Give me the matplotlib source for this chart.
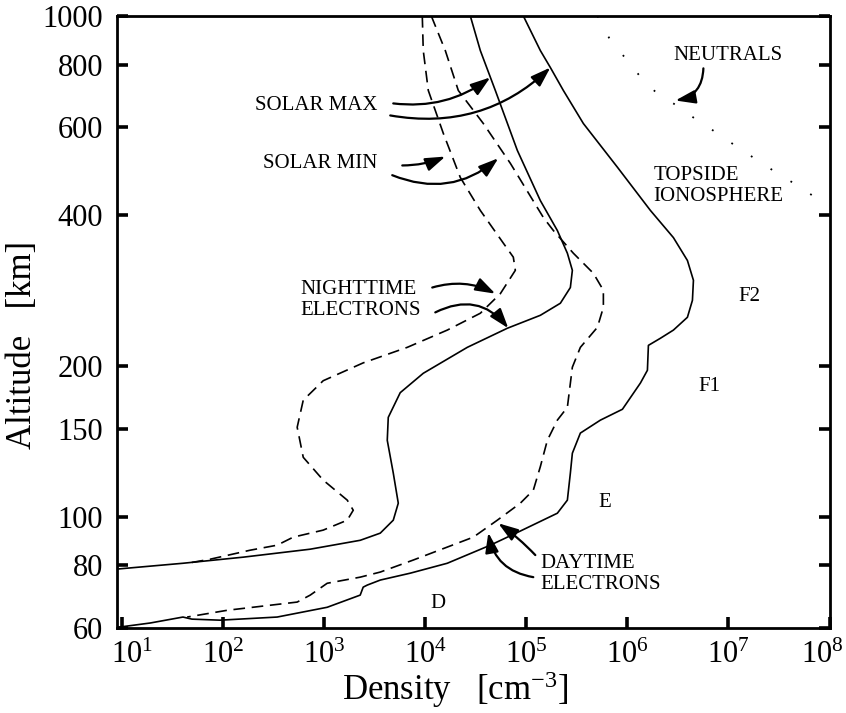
import matplotlib
matplotlib.use("Agg")
import matplotlib.pyplot as plt
from matplotlib.transforms import ScaledTranslation

# Electron density profiles (density in cm^-3, altitude in km)
day_max_n = [93400, 137600, 172900, 232500, 366700, 796200, 1.69e6, 2.854e6, 3.926e6, 4.503e6,
             4.401e6, 3.926e6, 2.854e6, 2.122e6, 1.614e6, 1.578e6, 1.345e6, 8.93e5, 5.403e5, 3.425e5,
             2.854e5, 2.727e5, 2.547e5, 2.027e5, 87220, 44000, 16500, 7100, 3590, 2670,
             2430, 2270, 1070, 342, 93, 49, 40, 19, 9.1]
day_max_h = [1000, 853, 789, 710, 610, 499, 409, 361, 325, 296.7,
             270.6, 250.3, 236, 227.3, 220, 196.2, 185, 164, 156, 147,
             134, 122.3, 108, 101.7, 93.7, 87.8, 80.8, 77.2, 74.8, 73.1,
             72.4, 69.8, 66.0, 63.1, 62.2, 62.5, 63.1, 61.4, 60.2]

day_min_n = [11470, 15780, 21220, 37530, 69440, 147400, 185100, 292000, 460700, 578500,
             578500, 504700, 342500, 285400, 254700, 202700, 161400, 137600, 117300, 87220,
             51650, 29880, 7600, 3590, 2270, 1070, 727, 540, 110, 44]
day_min_h = [1000, 853, 710, 610, 508, 396, 373, 336, 306.4, 283.4,
             262, 239, 218, 199, 165.5, 156, 142.2, 126, 113.1, 106.5,
             98.5, 91.1, 82.0, 77.6, 75.8, 73.7, 69.8, 67.6, 65.1, 63.1]

night_max_n = [27900, 35050, 49340, 81460, 137600, 202700, 254700, 285400, 272700, 217100,
               137600, 64840, 26050, 9554, 5650, 4302, 4205, 4823, 5405, 4823,
               3585, 2272, 727, 158, 40, 9.1]
night_max_h = [1000, 853, 710, 539, 428, 373, 336, 310.6, 287, 267,
               252.6, 238, 218, 193.5, 177, 158, 142.2, 122.3, 106.5, 98.5,
               92.8, 89.8, 86.2, 83.1, 80.8, 78.7]

night_min_n = [9340, 9550, 10710, 15080, 22210, 35050, 59190, 74330, 77830, 55290,
               35050, 16510, 6634, 2433, 977, 620, 540, 620, 977, 1690,
               1937, 1690, 977, 493, 342, 185, 74, 44]
night_min_h = [1000, 853, 710, 583, 476, 409, 352, 330, 310.6, 279,
               255, 236, 218, 203, 187, 171, 151, 131.5, 118.4, 108,
               103.1, 98.5, 94.1, 91.1, 87.8, 85.8, 82.3, 80.8]

neutral_n = [5.05e5, 6.79e5, 1.0e6, 1.44e6, 1.98e6, 2.85e6, 4.5e6, 7.78e6, 1.23e7, 1.94e7,
             3.06e7, 5.16e7, 8.72e7]
neutral_h = [1000, 894, 815, 743, 700, 669, 627, 583, 547, 515,
             485, 455, 423]

x_ticks = [1e1, 1e2, 1e3, 1e4, 1e5, 1e6, 1e7, 1e8]
x_tick_labels = [r"$10^{1}$", r"$10^{2}$", r"$10^{3}$", r"$10^{4}$",
                 r"$10^{5}$", r"$10^{6}$", r"$10^{7}$", r"$10^{8}$"]
y_ticks = [60, 80, 100, 150, 200, 400, 600, 800, 1000]
y_tick_labels = ["60", "80", "100", "150", "200", "400", "600", "800", "1000"]

plt.rcParams["font.family"] = ["Liberation Serif", "DejaVu Serif"]
plt.rcParams["mathtext.fontset"] = "custom"
plt.rcParams["mathtext.rm"] = "Liberation Serif"
plt.rcParams["mathtext.it"] = "Liberation Serif:italic"

fig = plt.figure(figsize=(8.46, 7.13), dpi=100)
ax = fig.add_axes([0.1383, 0.1192, 0.8422, 0.8584])

lw = 1.2
dashed = (0, (7, 4))
ax.plot(day_max_n, day_max_h, color="black", lw=lw)
ax.plot(night_max_n, night_max_h, color="black", lw=lw)
ax.plot(day_min_n, day_min_h, color="black", lw=lw, linestyle=dashed)
ax.plot(night_min_n, night_min_h, color="black", lw=lw, linestyle=dashed)
ax.plot(neutral_n, neutral_h, color="black", lw=1.3, linestyle=(0, (1, 12)))

ax.set_xscale("log")
ax.set_yscale("log")
ax.set_xlim(8.9, 1e8)
ax.set_ylim(60, 1000)
ax.set_xticks(x_ticks, x_tick_labels)
ax.set_yticks(y_ticks, y_tick_labels)
ax.minorticks_off()
ax.tick_params(which="major", direction="in", length=8, width=2.6, labelsize=22,
               right=True, top=False)
ax.tick_params(axis="y", pad=10)
ax.tick_params(axis="x", pad=9)
for s in ax.spines.values():
    s.set_linewidth(2)

# nudge the end labels inwards as in the original
xlabels = ax.get_xticklabels()
xlabels[0].set_transform(xlabels[0].get_transform() + ScaledTranslation(7 / 72, 0, fig.dpi_scale_trans))
xlabels[-1].set_transform(xlabels[-1].get_transform() + ScaledTranslation(-5 / 72, 0, fig.dpi_scale_trans))

ax.set_xlabel(r"Density   [cm$^{-3}$]", fontsize=25)
ax.set_ylabel("Altitude   [km]", fontsize=25)
ax.xaxis.set_label_coords(0.474, -0.101)
ax.xaxis.label.set_va("center")
ax.yaxis.set_label_coords(-0.133, 0.462)
ax.yaxis.label.set_va("center")

fs = 15
ax.text(207, 663, "SOLAR MAX", fontsize=fs, ha="left", va="center")
ax.text(249, 508, "SOLAR MIN", fontsize=fs, ha="left", va="center")
ax.text(579, 271, "NIGHTTIME\nELECTRONS", fontsize=fs, ha="left", va="center",
        linespacing=1.15)
ax.text(2.85e6, 834, "NEUTRALS", fontsize=fs, ha="left", va="center")
ax.text(1.81e6, 457, "TOPSIDE\nIONOSPHERE", fontsize=fs, ha="left", va="center",
        linespacing=1.15)
ax.text(1.256e7, 276, "F2", fontsize=fs, ha="left", va="center")
ax.text(5.05e6, 182, "F1", fontsize=fs, ha="left", va="center")
ax.text(5.16e5, 107, "E", fontsize=fs, ha="left", va="center")
ax.text(11220, 67.3, "D", fontsize=fs, ha="left", va="center")
ax.text(1.377e5, 76.9, "DAYTIME\nELECTRONS", fontsize=fs, ha="left", va="center",
        linespacing=1.15)


def arrow(tail, head, rad):
    ax.annotate("", xy=head, xytext=tail,
                arrowprops=dict(arrowstyle="-|>,head_length=0.8,head_width=0.27",
                                connectionstyle=f"arc3,rad={rad}", color="black",
                                lw=1.6, shrinkA=0, shrinkB=0, mutation_scale=15))


arrow((4820, 669), (44010, 754), 0.2)
arrow((4500, 633), (172900, 789), 0.25)
arrow((5920, 503), (15780, 524), 0.1)
arrow((4710, 481), (52800, 520), 0.3)
arrow((11720, 287), (49340, 279), -0.2)
arrow((12560, 256), (66370, 238), -0.4)
arrow((5.65e6, 786), (2.99e6, 678), -0.4)
arrow((122700, 83.9), (52800, 97.1), 0.05)
arrow((117200, 75.8), (42070, 93.0), -0.35)

fig.savefig("out.png", dpi=100)
